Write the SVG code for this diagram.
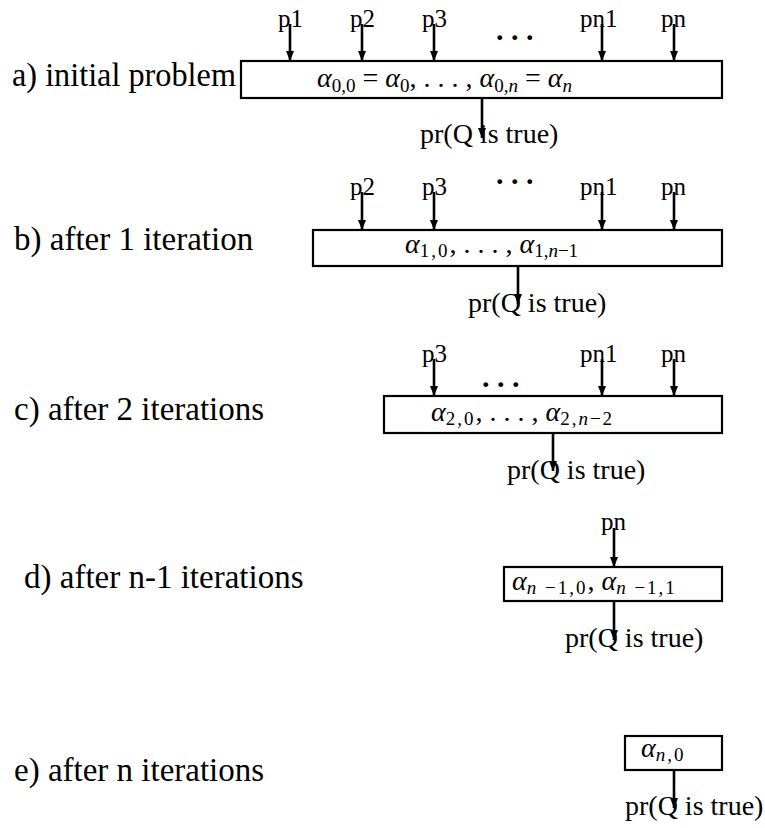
<svg xmlns="http://www.w3.org/2000/svg" width="765" height="828" viewBox="0 0 765 828">
<style>
.t { font-family: 'Liberation Serif', 'DejaVu Serif', serif; fill: #000; }
.lbl { font-size: 33px; }
.p { font-size: 25px; }
.pr { font-size: 28px; }
.m { font-size: 28px; }
.gk { font-style: italic; }
.sub { font-size: 19px; }
.sp { letter-spacing: 2px; }
.dots { font-size: 30px; font-weight: bold; }
.box { fill: #fff; stroke: #000; stroke-width: 2.2; }
.arr { stroke: #000; stroke-width: 2.6; fill: none; marker-end: url(#ah); }
</style>
<defs>
<marker id="ah" markerUnits="userSpaceOnUse" markerWidth="10" markerHeight="8" refX="10" refY="4" orient="auto">
<path d="M0,0 L10,4 L0,8 z" fill="#000"/>
</marker>
</defs>
<rect width="765" height="828" fill="#fff"/>

<g id="connectors">
<line class="arr" x1="290" y1="24" x2="290" y2="61"/>
<line class="arr" x1="362" y1="24" x2="362" y2="61"/>
<line class="arr" x1="434" y1="24" x2="434" y2="61"/>
<line class="arr" x1="602" y1="24" x2="602" y2="61"/>
<line class="arr" x1="674" y1="24" x2="674" y2="61"/>
<line class="arr" x1="482" y1="98" x2="482" y2="138"/>

<line class="arr" x1="362" y1="192" x2="362" y2="230"/>
<line class="arr" x1="434" y1="192" x2="434" y2="230"/>
<line class="arr" x1="602" y1="192" x2="602" y2="230"/>
<line class="arr" x1="674" y1="192" x2="674" y2="230"/>
<line class="arr" x1="518" y1="266" x2="518" y2="304"/>

<line class="arr" x1="434" y1="359" x2="434" y2="396"/>
<line class="arr" x1="602" y1="359" x2="602" y2="396"/>
<line class="arr" x1="674" y1="359" x2="674" y2="396"/>
<line class="arr" x1="553" y1="433" x2="553" y2="471"/>

<line class="arr" x1="614" y1="528" x2="614" y2="567"/>
<line class="arr" x1="614" y1="601" x2="614" y2="640"/>

<line class="arr" x1="674" y1="770" x2="674" y2="808"/>
</g>

<g id="node-a" class="t" font-family="'Liberation Serif', 'DejaVu Serif', serif">
<text class="lbl" x="12" y="86" textLength="224" lengthAdjust="spacingAndGlyphs">a) initial problem</text>
<rect class="box" x="241" y="61" width="481" height="37"/>
<text class="m" x="317" y="87"><tspan class="gk">α</tspan><tspan class="sub" dy="5">0,0</tspan><tspan dy="-5"> = </tspan><tspan class="gk">α</tspan><tspan class="sub" dy="5">0</tspan><tspan dy="-5">, . . . , </tspan><tspan class="gk">α</tspan><tspan class="sub" dy="5">0,<tspan class="gk">n</tspan></tspan><tspan dy="-5"> = </tspan><tspan class="gk">α</tspan><tspan class="sub gk" dy="5">n</tspan></text>
<text class="p" x="278" y="27">p1</text>
<text class="p" x="350" y="27">p2</text>
<text class="p" x="422" y="27">p3</text>
<text class="p" x="580" y="27">pn1</text>
<text class="p" x="661" y="27">pn</text>
<text class="dots" x="496" y="40">. . .</text>
<text class="pr" x="420" y="143">pr(Q is true)</text>
</g>

<g id="node-b" class="t" font-family="'Liberation Serif', 'DejaVu Serif', serif">
<text class="lbl" x="14" y="250">b) after 1 iteration</text>
<rect class="box" x="313" y="230" width="409" height="36"/>
<text class="m" x="405" y="253"><tspan class="gk">α</tspan><tspan class="sub sp" dy="4">1,0</tspan><tspan dy="-4">,  . . . ,  </tspan><tspan class="gk">α</tspan><tspan class="sub" dy="4">1,<tspan class="gk">n</tspan>−1</tspan></text>
<text class="p" x="350" y="195">p2</text>
<text class="p" x="422" y="195">p3</text>
<text class="p" x="580" y="195">pn1</text>
<text class="p" x="661" y="195">pn</text>
<text class="dots" x="496" y="184">. . .</text>
<text class="pr" x="468" y="312">pr(Q is true)</text>
</g>

<g id="node-c" class="t" font-family="'Liberation Serif', 'DejaVu Serif', serif">
<text class="lbl" x="14" y="420">c) after 2 iterations</text>
<rect class="box" x="384" y="396" width="338" height="37"/>
<text class="m" x="431" y="421"><tspan class="gk">α</tspan><tspan class="sub sp" dy="4">2,0</tspan><tspan dy="-4">,  . . . ,  </tspan><tspan class="gk">α</tspan><tspan class="sub sp" dy="4">2,<tspan class="gk">n</tspan>−2</tspan></text>
<text class="p" x="422" y="362">p3</text>
<text class="p" x="580" y="362">pn1</text>
<text class="p" x="661" y="362">pn</text>
<text class="dots" x="482" y="387">. . .</text>
<text class="pr" x="507" y="479">pr(Q is true)</text>
</g>

<g id="node-d" class="t" font-family="'Liberation Serif', 'DejaVu Serif', serif">
<text class="lbl" x="24" y="588">d) after n-1 iterations</text>
<rect class="box" x="504" y="567" width="218" height="34"/>
<text class="m" x="512" y="590"><tspan class="gk">α</tspan><tspan class="sub sp" dy="4"><tspan class="gk">n</tspan> −1,0</tspan><tspan dy="-4">,  </tspan><tspan class="gk">α</tspan><tspan class="sub sp" dy="4"><tspan class="gk">n</tspan> −1,1</tspan></text>
<text class="p" x="601" y="530">pn</text>
<text class="pr" x="565" y="647">pr(Q is true)</text>
</g>

<g id="node-e" class="t" font-family="'Liberation Serif', 'DejaVu Serif', serif">
<text class="lbl" x="14" y="781">e) after n iterations</text>
<rect class="box" x="625" y="736" width="97" height="34"/>
<text class="m" x="641" y="757"><tspan class="gk">α</tspan><tspan class="sub sp" dy="4" font-size="21"><tspan class="gk">n</tspan>,0</tspan></text>
<text class="pr" x="625" y="815">pr(Q is true)</text>
</g>
</svg>
